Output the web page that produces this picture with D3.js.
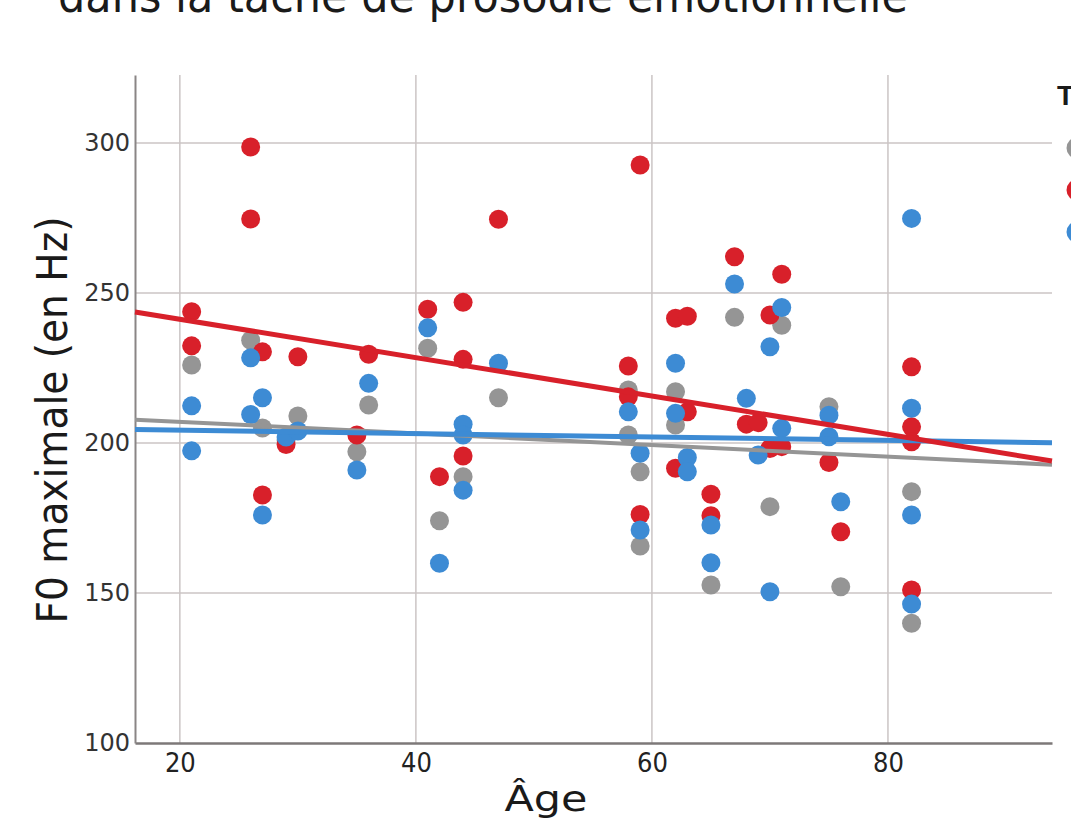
<!DOCTYPE html>
<html>
<head>
<meta charset="utf-8">
<script src="https://cdn.jsdelivr.net/npm/d3@7"></script>
<style>
  html, body { margin: 0; padding: 0; background: #ffffff; }
  svg { display: block; }
</style>
</head>
<body>
<svg id="chart" width="1071" height="825"></svg>
<script>
// Participant ages and maximum F0 (Hz), one array pair per stimulus type
const grayAge = [21, 26, 27, 29, 30, 35, 36, 41, 42, 44, 47, 58, 58, 59, 59, 62, 62, 65, 67, 70, 71, 75, 76, 82, 82];
const grayF0  = [226, 234.3, 205, 201, 209, 197.1, 212.7, 231.6, 174.1, 188.8, 215.1, 217.7, 202.7, 190.4, 165.7, 217.1, 206, 152.7, 241.9, 178.8, 239.3, 212.1, 152.1, 183.8, 139.9];

const redAge = [21, 21, 26, 26, 27, 27, 29, 30, 35, 36, 41, 42, 44, 44, 44, 47, 58, 58, 59, 59, 62, 62, 63, 63, 65, 65, 67, 68, 69, 70, 70, 71, 71, 75, 76, 82, 82, 82, 82];
const redF0  = [243.8, 232.4, 298.7, 274.7, 230.4, 182.7, 199.5, 228.8, 202.7, 229.6, 244.6, 188.8, 246.9, 227.9, 195.7, 274.6, 225.7, 215.4, 292.7, 176.2, 241.6, 191.6, 242.3, 210.4, 182.9, 175.8, 262.1, 206.3, 206.8, 242.7, 198.2, 256.3, 198.8, 193.5, 170.4, 225.4, 205.4, 200.4, 151];

const blueAge = [21, 21, 26, 26, 27, 27, 29, 30, 35, 36, 41, 42, 44, 44, 44, 47, 58, 59, 59, 62, 62, 63, 63, 65, 65, 67, 68, 69, 70, 70, 71, 71, 75, 75, 76, 82, 82, 82, 82];
const blueF0  = [212.4, 197.4, 228.4, 209.5, 215.1, 176, 202, 204, 191, 219.9, 238.4, 159.9, 206.3, 202.7, 184.3, 226.6, 210.4, 196.6, 171, 226.6, 209.9, 195.2, 190.4, 172.7, 160.1, 253, 214.9, 196, 232.1, 150.4, 245.2, 204.9, 209.3, 202.1, 180.4, 274.9, 211.6, 176, 146.3];

// Fitted linear trend per type: [age, F0] at each end of the plotted range
const grayFit = [[16.2, 207.8], [93.9, 192.8]];
const redFit  = [[16.2, 243.7], [93.9, 194.0]];
const blueFit = [[16.2, 204.5], [93.9, 200.1]];

// Axis ticks and labels
const xTicks = [20, 40, 60, 80];
const yTicks = [100, 150, 200, 250, 300];
const titleText = "dans la tâche de prosodie émotionnelle";
const xTitle = "Âge";
const yTitle = "F0 maximale (en Hz)";
const legendTitle = "Type";

const colors = { gray: "#959595", red: "#d8202a", blue: "#3d8bd4" };

const series = [
  { key: "gray", ages: grayAge, values: grayF0, fit: grayFit },
  { key: "red",  ages: redAge,  values: redF0,  fit: redFit },
  { key: "blue", ages: blueAge, values: blueF0, fit: blueFit }
];

const svg = d3.select("#chart");

const x = d3.scaleLinear().domain([16.2, 93.9]).range([135, 1052]);
const y = d3.scaleLinear().domain([100, 322.7]).range([743, 75]);

const condensed = "'Liberation Sans Narrow', 'DejaVu Sans Condensed', 'Liberation Sans', sans-serif";

// Title (partly above the top edge)
svg.append("text")
  .attr("x", 58).attr("y", 12)
  .attr("font-family", condensed)
  .attr("font-size", 46)
  .attr("fill", "#1a1a1a")
  .attr("textLength", 850)
  .attr("lengthAdjust", "spacingAndGlyphs")
  .text(titleText);

// Gridlines
const grid = svg.append("g").attr("stroke", "#cbc5c5").attr("stroke-width", 1.5);
grid.selectAll("line.v").data(xTicks).join("line")
  .attr("x1", d => x(d)).attr("x2", d => x(d))
  .attr("y1", y.range()[1]).attr("y2", y.range()[0]);
grid.selectAll("line.h").data(yTicks.filter(d => d > 100)).join("line")
  .attr("x1", x.range()[0]).attr("x2", x.range()[1])
  .attr("y1", d => y(d)).attr("y2", d => y(d));

// Axes
const xAxis = d3.axisBottom(x).tickValues(xTicks).tickSize(0).tickPadding(10).tickFormat(d3.format("d"));
const gx = svg.append("g").attr("transform", `translate(0,${y(100)})`).call(xAxis);
gx.select(".domain").attr("stroke", "#7d7878").attr("stroke-width", 2.5);
gx.selectAll("text")
  .attr("font-family", condensed)
  .attr("font-size", 27)
  .attr("fill", "#222");

const yAxis = d3.axisLeft(y).tickValues(yTicks).tickSize(0).tickPadding(5).tickFormat(d3.format("d"));
const gy = svg.append("g").attr("transform", `translate(${x.range()[0]},0)`).call(yAxis);
gy.select(".domain").attr("stroke", "#8a8585").attr("stroke-width", 2);
gy.selectAll("text")
  .attr("font-family", "'DejaVu Sans', sans-serif")
  .attr("font-size", 24)
  .attr("fill", "#333");

// Axis titles
svg.append("text")
  .attr("x", 546).attr("y", 811)
  .attr("text-anchor", "middle")
  .attr("font-family", condensed)
  .attr("font-size", 36)
  .attr("fill", "#1a1a1a")
  .attr("textLength", 83)
  .attr("lengthAdjust", "spacingAndGlyphs")
  .text(xTitle);

svg.append("text")
  .attr("transform", "translate(67,420) rotate(-90)")
  .attr("text-anchor", "middle")
  .attr("font-family", condensed)
  .attr("font-size", 42)
  .attr("fill", "#1a1a1a")
  .attr("textLength", 407)
  .attr("lengthAdjust", "spacingAndGlyphs")
  .text(yTitle);

// Points, drawn in series order
const pts = svg.append("g");
series.forEach(s => {
  pts.append("g").selectAll("circle")
    .data(s.ages.map((a, i) => [a, s.values[i]]))
    .join("circle")
    .attr("cx", d => x(d[0]))
    .attr("cy", d => y(d[1]))
    .attr("r", 9.5)
    .attr("fill", colors[s.key]);
});

// Trend lines
const line = d3.line().x(d => x(d[0])).y(d => y(d[1]));
const lineOrder = [
  { s: series[0], w: 4 },
  { s: series[2], w: 5 },
  { s: series[1], w: 5 }
];
lineOrder.forEach(o => {
  svg.append("path")
    .attr("d", line(o.s.fit))
    .attr("fill", "none")
    .attr("stroke", colors[o.s.key])
    .attr("stroke-width", o.w);
});

// Legend (runs past the right edge)
const legend = svg.append("g");
legend.append("text")
  .attr("x", 1057).attr("y", 105)
  .attr("font-family", "'Liberation Sans', sans-serif")
  .attr("font-weight", "bold")
  .attr("font-size", 28)
  .attr("fill", "#1a1a1a")
  .text(legendTitle);
const legendY = d3.scalePoint().domain(series.map(s => s.key)).range([148, 232]);
legend.selectAll("circle").data(series).join("circle")
  .attr("cx", 1077)
  .attr("cy", d => legendY(d.key))
  .attr("r", 10.5)
  .attr("fill", d => colors[d.key]);
</script>
</body>
</html>
